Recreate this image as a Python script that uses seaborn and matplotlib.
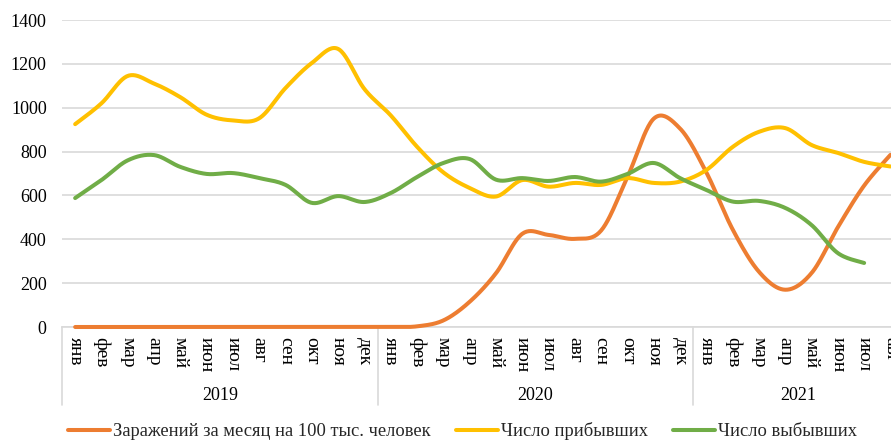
import numpy as np
import pandas as pd
import matplotlib
matplotlib.use('Agg')
import matplotlib.pyplot as plt
from matplotlib.lines import Line2D
import seaborn as sns

# Data (Jan 2019 .. Aug 2021)
months = ['янв', 'фев', 'мар', 'апр', 'май', 'июн', 'июл', 'авг', 'сен', 'окт', 'ноя', 'дек'] * 2 + \
         ['янв', 'фев', 'мар', 'апр', 'май', 'июн', 'июл', 'авг']
years = ['2019', '2020', '2021']
year_len = [12, 12, 8]

infections = [0, 0, 0, 0, 0, 0, 0, 0, 0, 0, 0, 0,
              0, 3, 30, 115, 245, 425, 420, 402, 440, 684, 950, 905,
              705, 445, 252, 170, 246, 455, 645, 785]
arrived = [925, 1020, 1145, 1110, 1048, 968, 942, 952, 1090, 1204, 1268, 1085,
           965, 822, 705, 634, 595, 670, 640, 657, 648, 679, 657, 663,
           716, 821, 890, 907, 830, 794, 753, 732]
departed = [588, 670, 760, 784, 730, 698, 702, 679, 648, 566, 597, 570,
            611, 684, 748, 766, 672, 679, 666, 684, 663, 698, 748, 679,
            625, 572, 575, 543, 465, 337, 292]

labels = ['Заражений за месяц на 100 тыс. человек', 'Число прибывших', 'Число выбывших']
colors = ['#ED7D31', '#FFC000', '#70AD47']


def smooth(vals, n=24):
    # Excel-style smoothed line (Catmull-Rom through the points)
    y = np.asarray(vals, dtype=float)
    x = np.arange(len(y), dtype=float)
    px = np.concatenate([[x[0]], x, [x[-1]]])
    py = np.concatenate([[y[0]], y, [y[-1]]])
    xs, ys = [], []
    t = np.linspace(0, 1, n, endpoint=False)
    for i in range(1, len(px) - 2):
        x0, x1, x2, x3 = px[i - 1:i + 3]
        y0, y1, y2, y3 = py[i - 1:i + 3]
        cx1, cy1 = x1 + (x2 - x0) / 6, y1 + (y2 - y0) / 6
        cx2, cy2 = x2 - (x3 - x1) / 6, y2 - (y3 - y1) / 6
        b0, b1, b2, b3 = (1 - t) ** 3, 3 * t * (1 - t) ** 2, 3 * t ** 2 * (1 - t), t ** 3
        xs.append(b0 * x1 + b1 * cx1 + b2 * cx2 + b3 * x2)
        ys.append(b0 * y1 + b1 * cy1 + b2 * cy2 + b3 * y2)
    xs.append([x[-1]])
    ys.append([y[-1]])
    return np.concatenate(xs), np.concatenate(ys)


sns.set_theme(style='white')
plt.rcParams['font.family'] = ['Liberation Serif', 'DejaVu Serif']

fig = plt.figure(figsize=(8.91, 4.40), dpi=100)
ax = fig.add_axes([62 / 891, 1 - 327 / 440, 1 - 62 / 891, 307 / 440])

for vals, lab, col in zip([infections, arrived, departed], labels, colors):
    sx, sy = smooth(vals)
    df = pd.DataFrame({'x': sx, 'y': sy})
    sns.lineplot(data=df, x='x', y='y', sort=False, estimator=None,
                 color=col, linewidth=2.9, ax=ax, label=lab)
for ln in ax.lines:
    ln.set_clip_on(False)
    ln.set_zorder(3)

ax.get_legend().remove()
ax.set_ylim(0, 1400)
ax.set_yticks(range(0, 1401, 200))
ax.set_xlim(-0.5, -0.5 + (891 - 62) / 26.3)
ax.grid(axis='y', color='#D9D9D9', linewidth=1.2)
ax.set_axisbelow(True)
for s in ['top', 'right', 'left']:
    ax.spines[s].set_visible(False)
ax.spines['bottom'].set_color('#D9D9D9')
ax.spines['bottom'].set_linewidth(1.2)
ax.set_xlabel('')
ax.set_ylabel('')

ax.set_xticks(range(len(months)))
ax.set_xticklabels(months, rotation=-90, va='top', ha='center')
ax.tick_params(axis='x', length=0, pad=7, labelsize=14, colors='black')
ax.tick_params(axis='y', length=0, pad=11, labelsize=13, colors='black')

# year groups under the month labels
trans = ax.get_xaxis_transform()
start = 0
for yr, n in zip(years, year_len):
    ax.text(start + (n - 1) / 2, -0.222, yr, transform=trans, ha='center', va='center',
            fontsize=13, color='black')
    start += n
for b in [0, 12, 24]:
    ax.add_line(Line2D([b - 0.5, b - 0.5], [0, -0.255], transform=trans, color='#D9D9D9',
                       linewidth=1.2, clip_on=False))

handles = [Line2D([], [], color=c, linewidth=2.9) for c in colors]
fig.legend(handles, labels, loc='center', bbox_to_anchor=(0.519, 1 - 431 / 440), ncol=3,
           frameon=False, fontsize=13.3, handlelength=2.3, handletextpad=0.15,
           columnspacing=1.35, borderpad=0, borderaxespad=0)

fig.savefig('out.png', dpi=100)
